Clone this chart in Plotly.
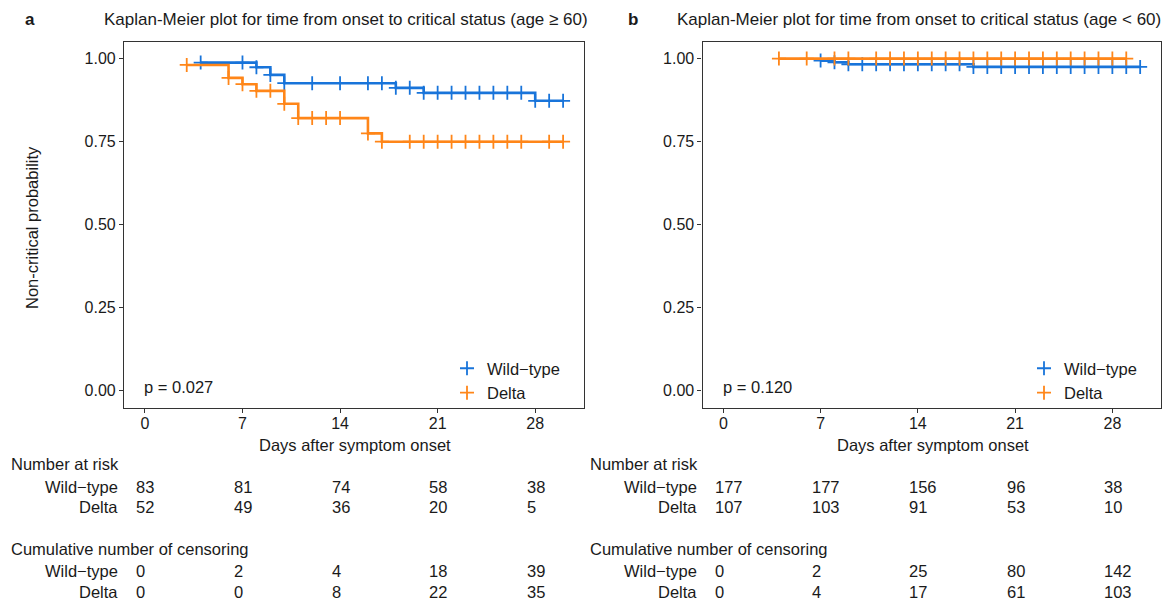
import numpy as np
import plotly.graph_objects as go

# ---------------- data ----------------
day_ticks = [0, 7, 14, 21, 28]
groups = ["Wild\u2212type", "Delta"]

# Panel a (age >= 60)
a_wt_time = [4, 8, 9, 10, 18, 20, 28, 30]
a_wt_surv = [0.988, 0.974, 0.951, 0.926, 0.912, 0.897, 0.873, 0.873]
a_wt_cens = [4, 7, 8, 9, 10, 12, 14, 16, 17, 18, 19, 20, 21, 22, 23, 24, 25, 26, 27, 28, 29, 30]
a_de_time = [3, 6, 7, 8, 10, 11, 16, 17, 30]
a_de_surv = [0.981, 0.942, 0.923, 0.903, 0.864, 0.821, 0.775, 0.750, 0.750]
a_de_cens = [3, 6, 7, 8, 9, 10, 11, 12, 13, 14, 16, 17, 19, 20, 21, 22, 23, 24, 25, 26, 27, 29, 30]

# Panel b (age < 60)
b_wt_time = [7, 8, 9, 18, 30]
b_wt_surv = [0.994, 0.989, 0.983, 0.975, 0.975]
b_wt_cens = [7, 8, 9, 10, 11, 12, 13, 14, 15, 16, 17, 18, 19, 20, 21, 22, 23, 24,
             25, 26, 27, 28, 29, 30]
b_de_time = [4, 29]
b_de_surv = [1.0, 1.0]
b_de_cens = [4, 6, 8, 9, 11, 12, 13, 14, 15, 16, 17, 18, 19, 20, 21, 22, 23, 24,
             25, 26, 27, 28, 29]

p_a = "p = 0.027"
p_b = "p = 0.120"

risk_a_wt = [83, 81, 74, 58, 38]
risk_a_de = [52, 49, 36, 20, 5]
cens_a_wt = [0, 2, 4, 18, 39]
cens_a_de = [0, 0, 8, 22, 35]

risk_b_wt = [177, 177, 156, 96, 38]
risk_b_de = [107, 103, 91, 53, 10]
cens_b_wt = [0, 2, 25, 80, 142]
cens_b_de = [0, 4, 17, 61, 103]

title_a = "Kaplan-Meier plot for time from onset to critical status (age \u2265 60)"
title_b = "Kaplan-Meier plot for time from onset to critical status (age < 60)"

# ---------------- style ----------------
W, H = 1164, 603
BLUE = "#1874DA"
ORANGE = "#FF8619"
FONT = "Liberation Sans, Arial, Helvetica, sans-serif"
TXT = "#1a1a1a"
FS = 16.5


def px_x(p):
    return p / W


def px_y(p):
    return 1 - p / H


def step_value(times, surv, t):
    idx = np.searchsorted(np.array(times), t, side="right") - 1
    idx = max(idx, 0)
    return surv[idx]


fig = go.Figure()

panels = [
    ("x", "y", "legend", [(a_wt_time, a_wt_surv, a_wt_cens, BLUE),
                          (a_de_time, a_de_surv, a_de_cens, ORANGE)]),
    ("x2", "y2", "legend2", [(b_wt_time, b_wt_surv, b_wt_cens, BLUE),
                             (b_de_time, b_de_surv, b_de_cens, ORANGE)]),
]

for xa, ya, lg, series in panels:
    for (times, surv, cens, col), name in zip(series, groups):
        fig.add_trace(go.Scatter(
            x=times, y=surv, mode="lines", line=dict(color=col, width=2.6, shape="hv"),
            xaxis=xa, yaxis=ya, showlegend=False, hoverinfo="skip"))
        cy = [step_value(times, surv, t) for t in cens]
        fig.add_trace(go.Scatter(
            x=cens, y=cy, mode="markers", name=name,
            marker=dict(symbol="cross-thin", size=10, line=dict(color=col, width=1.8), color=col),
            xaxis=xa, yaxis=ya, showlegend=True, legend=lg, hoverinfo="skip"))

axis_common = dict(
    showline=True, mirror=True, linecolor="#333333", linewidth=1.2,
    ticks="outside", ticklen=4, tickcolor="#333333", tickwidth=1,
    showgrid=False, zeroline=False,
    tickfont=dict(family=FONT, size=16, color=TXT),
)

xdom_a = [px_x(124), px_x(584)]
xdom_b = [px_x(702.5), px_x(1161)]
ydom = [px_y(407.5), px_y(42)]

yticks = [0, 0.25, 0.5, 0.75, 1.0]
ytext = ["0.00", "0.25", "0.50", "0.75", "1.00"]

fig.update_layout(
    width=W, height=H, margin=dict(l=0, r=0, t=0, b=0),
    paper_bgcolor="white", plot_bgcolor="white",
    font=dict(family=FONT, size=FS, color=TXT),
    xaxis=dict(domain=xdom_a, range=[-1.5, 31.5], tickvals=day_ticks, anchor="y",
               ticklabelstandoff=-3, **axis_common),
    yaxis=dict(domain=ydom, range=[-0.05, 1.05], tickvals=yticks, ticktext=ytext, anchor="x", **axis_common),
    xaxis2=dict(domain=xdom_b, range=[-1.5, 31.5], tickvals=day_ticks, anchor="y2",
                ticklabelstandoff=-3, **axis_common),
    yaxis2=dict(domain=ydom, range=[-0.05, 1.05], tickvals=yticks, ticktext=ytext, anchor="x2", **axis_common),
    legend=dict(x=px_x(447), y=px_y(351), xanchor="left", yanchor="top",
                bgcolor="rgba(0,0,0,0)", font=dict(family=FONT, size=FS, color=TXT),
                tracegroupgap=0, itemwidth=30),
    legend2=dict(x=px_x(1024), y=px_y(351), xanchor="left", yanchor="top",
                 bgcolor="rgba(0,0,0,0)", font=dict(family=FONT, size=FS, color=TXT),
                 tracegroupgap=0, itemwidth=30),
)

ann = []


def add_text(text, x, y, xref="paper", yref="paper", xanchor="center", yanchor="middle",
             size=FS, bold=False, angle=0):
    ann.append(dict(text=("<b>%s</b>" % text) if bold else text, x=x, y=y, xref=xref, yref=yref,
                    xanchor=xanchor, yanchor=yanchor, showarrow=False, textangle=angle,
                    font=dict(family=FONT, size=size, color=TXT)))


# panel labels and titles
add_text("a", px_x(23), px_y(20), xanchor="left", size=17, bold=True)
add_text("b", px_x(626), px_y(20), xanchor="left", size=17, bold=True)
add_text(title_a, px_x(346), px_y(20), size=17)
add_text(title_b, px_x(919), px_y(20), size=17)

# axis titles
add_text("Non-critical probability", px_x(32), px_y(228), angle=-90)
add_text("Days after symptom onset", px_x(355), px_y(445))
add_text("Days after symptom onset", px_x(933), px_y(445))

# p-values
add_text(p_a, -0.2, 0.012, xref="x", yref="y", xanchor="left")
add_text(p_b, -0.2, 0.012, xref="x2", yref="y2", xanchor="left")

# tables
row_y = {"h1": 464, "r1": 487, "r2": 507, "h2": 549, "r3": 571, "r4": 592}
tables = [
    ("x", 9, 120, [risk_a_wt, risk_a_de, cens_a_wt, cens_a_de]),
    ("x2", 588, 699, [risk_b_wt, risk_b_de, cens_b_wt, cens_b_de]),
]
for xr, hx, lx, rows in tables:
    add_text("Number at risk", px_x(hx), px_y(row_y["h1"]), xanchor="left")
    add_text("Cumulative number of censoring", px_x(hx), px_y(row_y["h2"]), xanchor="left")
    for key, name, vals in zip(["r1", "r2", "r3", "r4"], groups * 2, rows):
        add_text(name, px_x(lx), px_y(row_y[key]), xanchor="right")
        for d, v in zip(day_ticks, vals):
            add_text(str(v), d - 0.75, px_y(row_y[key]), xref=xr, xanchor="left")

fig.update_layout(annotations=ann)
fig.write_html(
    "out.html",
    config={"displayModeBar": False},
    post_script="document.body.style.margin='0';document.body.style.overflow='hidden';",
)
